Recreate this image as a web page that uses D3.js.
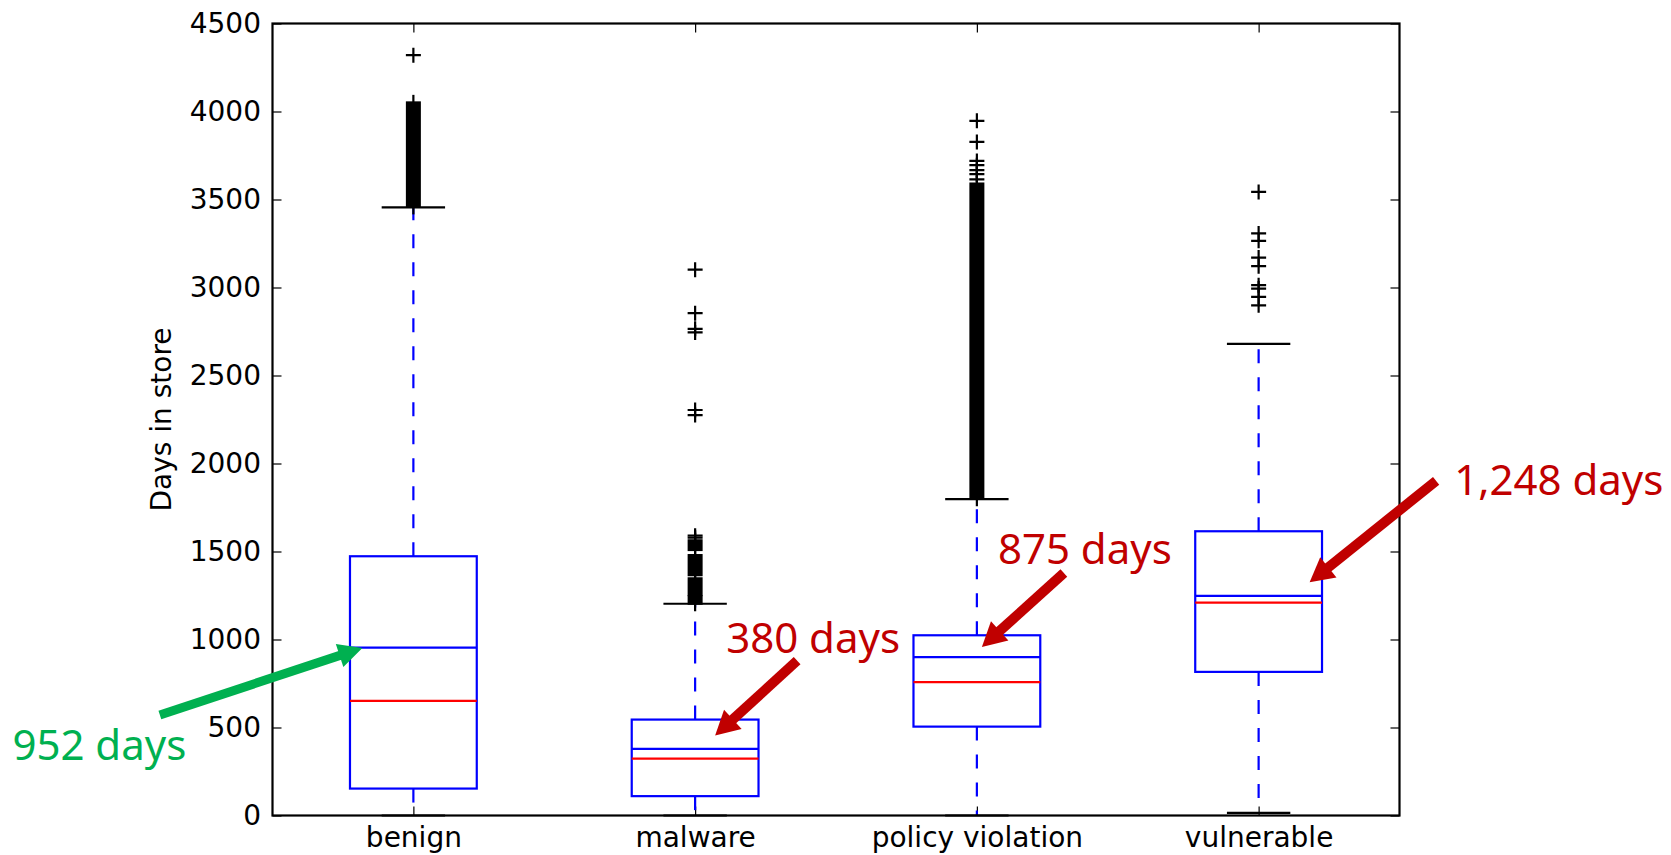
<!DOCTYPE html>
<html>
<head>
<meta charset="utf-8">
<script src="https://cdn.jsdelivr.net/npm/d3@7"></script>
<style>
    html, body { margin: 0; padding: 0; background: #fff; }
    svg { display: block; }
    .anno { font-family: "Noto Sans", sans-serif; font-size: 42px; }
</style>
</head>
<body>
<svg id="chart" width="1671" height="855"></svg>
<script>
// box statistics (days in store)
var categories = ['benign', 'malware', 'policy violation', 'vulnerable'];
var q1Values = [153, 110, 505, 816];
var q3Values = [1473, 545, 1024, 1615];
var medianValues = [651, 323, 758, 1210];
var meanValues = [954, 379, 900, 1248];
var whiskerLow = [0, 0, 0, 15];
var whiskerHigh = [3455, 1203, 1798, 2680];
var yTicks = [0, 500, 1000, 1500, 2000, 2500, 3000, 3500, 4000, 4500];

// single fliers that can be told apart
var outlierCats = ['benign',
    'malware', 'malware', 'malware', 'malware', 'malware', 'malware', 'malware', 'malware',
    'policy violation', 'policy violation', 'policy violation', 'policy violation',
    'policy violation', 'policy violation', 'policy violation',
    'vulnerable', 'vulnerable', 'vulnerable', 'vulnerable', 'vulnerable',
    'vulnerable', 'vulnerable', 'vulnerable', 'vulnerable'];
var outlierValues = [4320,
    3101, 2854, 2765, 2745, 2304, 2275, 1590, 1578,
    3947, 3827, 3719, 3695, 3667, 3644, 3614,
    3543, 3307, 3265, 3170, 3121, 3013, 2994, 2947, 2899];

// ranges where the fliers pile up into a solid column
var bandCats = ['benign', 'policy violation', 'malware', 'malware', 'malware', 'malware'];
var bandLow = [3458, 1800, 1508, 1365, 1252, 1203];
var bandHigh = [4052, 3591, 1564, 1480, 1348, 1246];

// annotations
var annoLabels = ['952 days', '380 days', '875 days', '1,248 days'];
var annoCats = ['benign', 'malware', 'policy violation', 'vulnerable'];
var annoValues = [952, 380, 875, 1248];

var margin = {top: 23.5, right: 271.5, bottom: 39.5, left: 272.5},
    width = 1671 - margin.left - margin.right,
    height = 855 - margin.top - margin.bottom;

var blue = '#0000ff', red = '#ff0000';
var annoRed = '#c00000', annoGreen = '#00b050';

// pixel offsets for the arrows: tip from the data point, tail and text from the tip
var annoLayout = [
    {color: annoGreen, tip: [-51, 0], tail: [-202.5, 67], text: [-350, 112], shaft: 9, head: 24, half: 12},
    {color: annoRed, tip: [20, -13], tail: [82, -75], text: [11, -83], shaft: 10, head: 24, half: 13},
    {color: annoRed, tip: [5, -14.5], tail: [82, -74], text: [16, -83], shaft: 10, head: 24, half: 13},
    {color: annoRed, tip: [51, -13.5], tail: [126.5, -101.5], text: [144.5, -87.5], shaft: 10, head: 24, half: 13}
];

var svg = d3.select('#chart');

svg.append('rect')
    .attr('width', 1671)
    .attr('height', 855)
    .attr('fill', '#fff');

var g = svg.append('g')
    .attr('transform', 'translate(' + margin.left + ',' + margin.top + ')');

var x = d3.scalePoint()
    .domain(categories)
    .range([0, width])
    .padding(0.5);

var y = d3.scaleLinear()
    .domain([0, 4500])
    .range([height, 0]);

var step = x.step(),
    boxW = 0.45 * step,
    capW = boxW / 2;

// axes, classic matplotlib look: ticks inside on all four sides
function styleAxis(sel) {
    sel.select('.domain').remove();
    sel.selectAll('.tick line')
        .attr('stroke', '#000')
        .attr('stroke-width', 1.2);
    sel.selectAll('text')
        .attr('font-family', '"DejaVu Sans", sans-serif')
        .attr('font-size', 28)
        .attr('fill', '#000');
}

g.append('g')
    .call(d3.axisLeft(y).tickValues(yTicks).tickFormat(d3.format('d'))
        .tickSizeInner(-9).tickSizeOuter(0).tickPadding(11.5))
    .call(styleAxis);

g.append('g')
    .attr('transform', 'translate(' + width + ',0)')
    .call(d3.axisRight(y).tickValues(yTicks).tickSizeInner(-9).tickSizeOuter(0).tickFormat(''))
    .call(styleAxis);

g.append('g')
    .attr('transform', 'translate(0,' + height + ')')
    .call(d3.axisBottom(x).tickSizeInner(-9).tickSizeOuter(0).tickPadding(11.6))
    .call(styleAxis);

g.append('g')
    .call(d3.axisTop(x).tickSizeInner(-9).tickSizeOuter(0).tickFormat(''))
    .call(styleAxis);

// y label
g.append('text')
    .attr('transform', 'translate(' + (171 - margin.left) + ',' + (height / 2) + ') rotate(-90)')
    .attr('text-anchor', 'middle')
    .attr('font-family', '"DejaVu Sans", sans-serif')
    .attr('font-size', 28)
    .attr('fill', '#000')
    .text('Days in store');

// boxes
var boxes = g.selectAll('g.box')
    .data(categories)
    .enter().append('g')
    .attr('class', 'box')
    .attr('transform', function(d) { return 'translate(' + x(d) + ',0)'; });

// whiskers
boxes.append('line')
    .attr('y1', function(d, i) { return y(q3Values[i]); })
    .attr('y2', function(d, i) { return y(whiskerHigh[i]); })
    .attr('stroke', blue)
    .attr('stroke-width', 2.2)
    .attr('stroke-dasharray', '14,14');

boxes.append('line')
    .attr('y1', function(d, i) { return y(q1Values[i]); })
    .attr('y2', function(d, i) { return y(whiskerLow[i]); })
    .attr('stroke', blue)
    .attr('stroke-width', 2.2)
    .attr('stroke-dasharray', '14,14');

// caps
boxes.selectAll('line.cap')
    .data(function(d, i) { return [whiskerLow[i], whiskerHigh[i]]; })
    .enter().append('line')
    .attr('class', 'cap')
    .attr('x1', -capW / 2)
    .attr('x2', capW / 2)
    .attr('y1', function(v) { return y(v); })
    .attr('y2', function(v) { return y(v); })
    .attr('stroke', '#000')
    .attr('stroke-width', 2.2);

boxes.append('rect')
    .attr('x', -boxW / 2)
    .attr('width', boxW)
    .attr('y', function(d, i) { return y(q3Values[i]); })
    .attr('height', function(d, i) { return y(q1Values[i]) - y(q3Values[i]); })
    .attr('fill', 'none')
    .attr('stroke', blue)
    .attr('stroke-width', 2.2);

boxes.append('line')
    .attr('x1', -boxW / 2)
    .attr('x2', boxW / 2)
    .attr('y1', function(d, i) { return y(medianValues[i]); })
    .attr('y2', function(d, i) { return y(medianValues[i]); })
    .attr('stroke', red)
    .attr('stroke-width', 2.2);

boxes.append('line')
    .attr('x1', -boxW / 2)
    .attr('x2', boxW / 2)
    .attr('y1', function(d, i) { return y(meanValues[i]); })
    .attr('y2', function(d, i) { return y(meanValues[i]); })
    .attr('stroke', blue)
    .attr('stroke-width', 2.2);

// piled-up fliers
var bands = g.selectAll('g.band')
    .data(bandCats)
    .enter().append('g')
    .attr('class', 'band')
    .attr('transform', function(d) { return 'translate(' + x(d) + ',0)'; });

bands.append('rect')
    .attr('x', -7.5)
    .attr('width', 15)
    .attr('y', function(d, i) { return y(bandHigh[i]) - 1; })
    .attr('height', function(d, i) { return y(bandLow[i]) - y(bandHigh[i]) + 2; })
    .attr('fill', '#000');

bands.append('line')
    .attr('y1', function(d, i) { return y(bandHigh[i]) - 7.5; })
    .attr('y2', function(d, i) { return y(bandLow[i]) + 7.5; })
    .attr('stroke', '#000')
    .attr('stroke-width', 2.2);

// single fliers
g.selectAll('path.flier')
    .data(outlierValues)
    .enter().append('path')
    .attr('class', 'flier')
    .attr('transform', function(v, i) { return 'translate(' + x(outlierCats[i]) + ',' + y(v) + ')'; })
    .attr('d', 'M-7.5,0H7.5M0,-7.5V7.5')
    .attr('stroke', '#000')
    .attr('stroke-width', 2.2)
    .attr('fill', 'none');

// frame
g.append('rect')
    .attr('width', width)
    .attr('height', height)
    .attr('fill', 'none')
    .attr('stroke', '#000')
    .attr('stroke-width', 2.2);

// arrows with labels
function arrow(sel, tip, tail, lay) {
    var dx = tip[0] - tail[0],
        dy = tip[1] - tail[1],
        len = Math.sqrt(dx * dx + dy * dy),
        ux = dx / len, uy = dy / len,
        bx = tip[0] - ux * lay.head,
        by = tip[1] - uy * lay.head;

    sel.append('line')
        .attr('x1', tail[0]).attr('y1', tail[1])
        .attr('x2', bx + ux * 2).attr('y2', by + uy * 2)
        .attr('stroke', lay.color)
        .attr('stroke-width', lay.shaft);

    sel.append('polygon')
        .attr('points', [
            [tip[0], tip[1]],
            [bx - uy * lay.half, by + ux * lay.half],
            [bx + uy * lay.half, by - ux * lay.half]
        ].join(' '))
        .attr('fill', lay.color);
}

annoLabels.forEach(function(label, i) {
    var lay = annoLayout[i];
    var tip = [x(annoCats[i]) + lay.tip[0], y(annoValues[i]) + lay.tip[1]];
    var tail = [tip[0] + lay.tail[0], tip[1] + lay.tail[1]];
    var a = g.append('g');

    arrow(a, tip, tail, lay);

    a.append('text')
        .attr('class', 'anno')
        .attr('x', tip[0] + lay.text[0])
        .attr('y', tip[1] + lay.text[1])
        .attr('fill', lay.color)
        .text(label);
});
</script>
</body>
</html>
